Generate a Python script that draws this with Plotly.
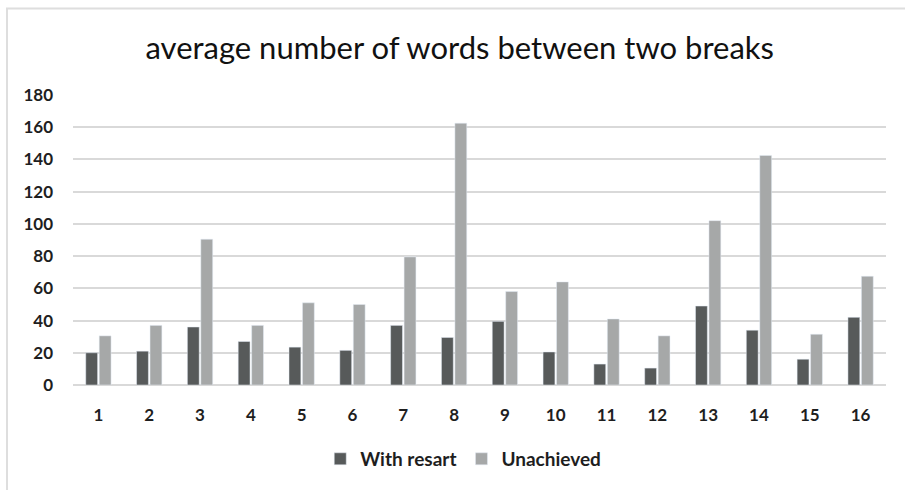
import plotly.graph_objects as go

categories = [str(i) for i in range(1, 17)]
with_resart = [20, 21, 36, 27, 23.5, 21.5, 37, 29.5, 39.5, 20.5, 13, 10.5, 49, 34, 16, 42]
unachieved = [30.5, 37, 90.5, 37, 51, 50, 79.5, 162.5, 58, 64, 41, 30.5, 102, 142.5, 31.5, 67.5]
y_ticks = [0, 20, 40, 60, 80, 100, 120, 140, 160, 180]

font_family = "Lato, Carlito, Calibri, sans-serif"

fig = go.Figure()
fig.add_trace(go.Bar(x=categories, y=with_resart, name="With resart", marker_color="#575a5a"))
fig.add_trace(go.Bar(x=categories, y=unachieved, name="Unachieved", marker_color="#a6a8a8"))

fig.update_layout(
    width=905, height=490,
    margin=dict(l=73, r=19, t=95, b=103),
    paper_bgcolor="white", plot_bgcolor="white",
    barmode="group", bargap=0.47, bargroupgap=0.12,
    title=dict(text="average number of words between two breaks", x=0.508, xanchor="center",
               y=0.902, yanchor="middle",
               font=dict(family=font_family, size=31, color="#111111")),
    xaxis=dict(showgrid=False, showline=False, ticks="",
               tickfont=dict(family=font_family, size=17, color="#1e1e1e", weight="bold"),
               ticklabelstandoff=18),
    yaxis=dict(range=[0, 180], tickvals=y_ticks, showgrid=True, gridcolor="#d9d9d9", gridwidth=2,
               zeroline=True, zerolinecolor="#d9d9d9", zerolinewidth=2,
               tickfont=dict(family=font_family, size=17, color="#1e1e1e", weight="bold"),
               ticklabelstandoff=19),
    legend=dict(orientation="h", x=0.48, xanchor="center", y=-0.255, yanchor="middle",
                font=dict(family=font_family, size=19, color="#1e1e1e", weight="bold"),
                itemwidth=30, tracegroupgap=0),
    shapes=[dict(type="rect", xref="paper", yref="paper", x0=-0.0812, x1=1.1, y0=-0.5, y1=1.298,
                 line=dict(color="#dedede", width=2))],
)

fig.write_html("out.html", config={"displayModeBar": False},
               post_script="document.body.style.margin='0';")
